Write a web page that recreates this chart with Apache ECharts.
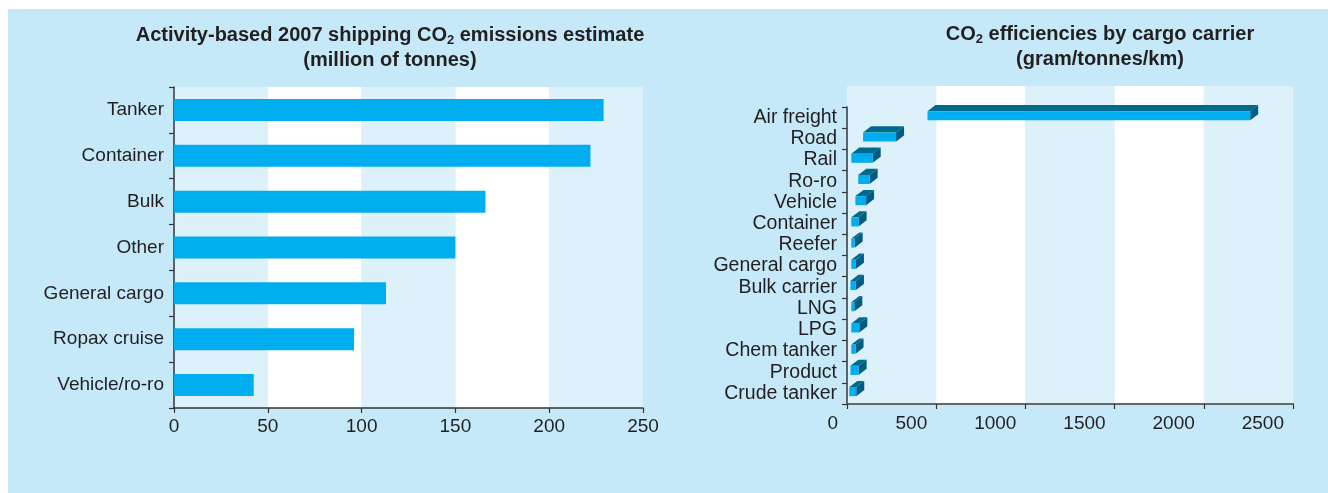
<!DOCTYPE html>
<html><head><meta charset="utf-8">
<script src="https://cdn.jsdelivr.net/npm/echarts@6/dist/echarts.min.js"></script>
<style>
html,body{margin:0;padding:0;background:#fff;}
#wrap{position:relative;width:1328px;height:493px;overflow:hidden;}
#bg{position:absolute;left:8px;top:9px;right:0;bottom:0;background:#C6E9F9;}
#c{position:absolute;left:0;top:0;width:1328px;height:493px;}
</style>
</head><body><div id="wrap"><div id="bg"></div><div id="c"></div></div>
<script>
const emissionCategories = ['Tanker','Container','Bulk','Other','General cargo','Ropax cruise','Vehicle/ro-ro'];
const emissionValues = [229, 222, 166, 150, 113, 96, 42.5];
const emissionTicks = [0, 50, 100, 150, 200, 250];

const carrierCategories = ['Air freight','Road','Rail','Ro-ro','Vehicle','Container','Reefer','General cargo','Bulk carrier','LNG','LPG','Chem tanker','Product','Crude tanker'];
const carrierLow  = [451, 90, 24, 63, 47, 24, 24, 24, 19, 24, 24, 24, 19, 13];
const carrierHigh = [2260, 275, 144, 127, 107, 65, 43, 50, 50, 41, 69, 48, 65, 52];
const efficiencyTicks = [0, 500, 1000, 1500, 2000, 2500];

const TXT = '#231F20';
const FONT = '"Liberation Sans", Arial, Helvetica, sans-serif';
const LIGHT = '#DDF1FB';

const chart = echarts.init(document.getElementById('c'), null, {renderer: 'canvas'});

const titleRich = {
  b: {fontSize: 20, fontWeight: 'bold', fontFamily: FONT, color: TXT, lineHeight: 25},
  s: {fontSize: 13, fontWeight: 'bold', fontFamily: FONT, color: TXT, lineHeight: 25, padding: [10, 0, 0, 0]}
};

const option = {
  backgroundColor: 'transparent',
  animation: false,
  textStyle: {fontFamily: FONT},
  title: [
    {
      text: '{b|Activity-based 2007 shipping CO}{s|2}{b| emissions estimate}\n{b|(million of tonnes)}',
      left: 390, top: 23, textAlign: 'center', padding: 0,
      textStyle: {rich: titleRich}
    },
    {
      text: '{b|CO}{s|2}{b| efficiencies by cargo carrier}\n{b|(gram/tonnes/km)}',
      left: 1100, top: 22, textAlign: 'center', padding: 0,
      textStyle: {rich: titleRich}
    }
  ],
  grid: [
    {left: 174, top: 87, width: 469, height: 321, containLabel: false},
    {left: 847, top: 107, width: 446, height: 297, containLabel: false},
    {left: 847, top: 86, width: 446, height: 318, containLabel: false}
  ],
  xAxis: [
    {
      gridIndex: 0, type: 'value',
      min: emissionTicks[0], max: emissionTicks[emissionTicks.length - 1],
      interval: emissionTicks[1] - emissionTicks[0],
      axisLine: {show: true, lineStyle: {color: '#333', width: 1.5}},
      axisTick: {show: true, length: 5, lineStyle: {color: '#333', width: 1.2}},
      axisLabel: {color: TXT, fontSize: 19, margin: 9, fontFamily: FONT, formatter: v => String(v)},
      splitLine: {show: false},
      splitArea: {show: true, areaStyle: {color: [LIGHT, '#FFFFFF']}}
    },
    {
      gridIndex: 1, type: 'value',
      min: efficiencyTicks[0], max: efficiencyTicks[efficiencyTicks.length - 1],
      interval: efficiencyTicks[1] - efficiencyTicks[0],
      axisLine: {show: true, lineStyle: {color: '#666', width: 2}},
      axisTick: {show: true, length: 5, lineStyle: {color: '#333', width: 1.2}},
      axisLabel: {color: TXT, fontSize: 19, margin: 10, fontFamily: FONT, align: 'right', padding: [0, 9, 0, 0], formatter: v => String(v)},
      splitLine: {show: false},
      splitArea: {show: false}
    },
    {
      gridIndex: 2, type: 'value',
      min: efficiencyTicks[0], max: efficiencyTicks[efficiencyTicks.length - 1],
      interval: efficiencyTicks[1] - efficiencyTicks[0],
      axisLine: {show: false}, axisTick: {show: false}, axisLabel: {show: false},
      splitLine: {show: false},
      splitArea: {show: true, areaStyle: {color: [LIGHT, '#FFFFFF']}},
      z: -1
    }
  ],
  yAxis: [
    {
      gridIndex: 0, type: 'category', data: emissionCategories, inverse: true,
      axisLine: {show: true, lineStyle: {color: '#333', width: 1.5}},
      axisTick: {show: true, length: 5, lineStyle: {color: '#333', width: 1.2}},
      axisLabel: {color: TXT, fontSize: 19, margin: 10, fontFamily: FONT, interval: 0}
    },
    {
      gridIndex: 1, type: 'category', data: carrierCategories, inverse: true,
      axisLine: {show: true, lineStyle: {color: '#333', width: 1.5}},
      axisTick: {show: true, length: 5, interval: 0, lineStyle: {color: '#333', width: 1.2}},
      axisLabel: {color: TXT, fontSize: 19.5, margin: 10, fontFamily: FONT, interval: 0}
    },
    {
      gridIndex: 2, type: 'value', show: false, min: 0, max: 1
    }
  ],
  series: [
    {
      type: 'bar', xAxisIndex: 0, yAxisIndex: 0,
      data: emissionValues, barWidth: 22,
      itemStyle: {color: '#00AEEF'}
    },
    {
      type: 'custom', xAxisIndex: 1, yAxisIndex: 1,
      data: carrierCategories.map((c, i) => [carrierLow[i], carrierHigh[i], i]),
      encode: {x: [0, 1], y: 2},
      renderItem: function (params, api) {
        const i = api.value(2);
        const p0 = api.coord([api.value(0), i]);
        const p1 = api.coord([api.value(1), i]);
        const band = api.size([0, 1])[1];
        const cy = p0[1];
        const fh = band * 0.43, dy = band * 0.29, dx = 8;
        const top = cy - band * 0.3;
        const bot = top + fh;
        const x0 = p0[0], x1 = p1[0];
        return {
          type: 'group',
          children: [
            {type: 'polygon', shape: {points: [[x0, top], [x0 + dx, top - dy], [x1 + dx, top - dy], [x1, top]]}, style: {fill: '#006A8E'}},
            {type: 'polygon', shape: {points: [[x1, top], [x1 + dx, top - dy], [x1 + dx, bot - dy], [x1, bot]]}, style: {fill: '#005C80'}},
            {type: 'rect', shape: {x: x0, y: top, width: x1 - x0, height: fh}, style: {fill: '#00AEEF'}}
          ]
        };
      }
    }
  ]
};
chart.setOption(option);
</script>
</body></html>
